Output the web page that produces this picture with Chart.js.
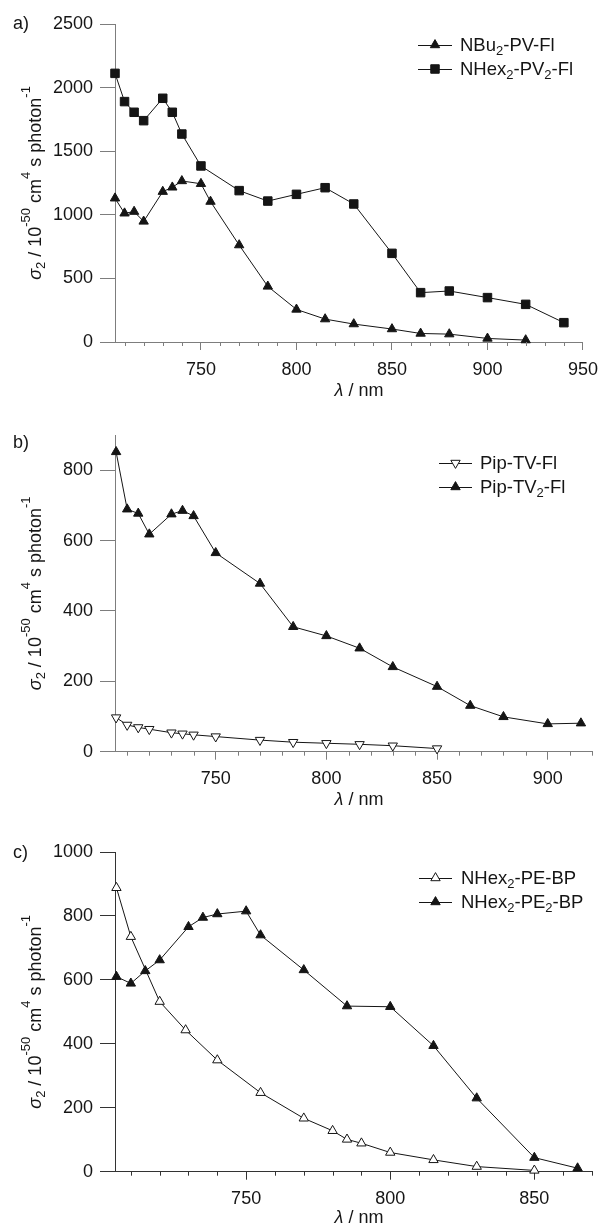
<!DOCTYPE html>
<html>
<head>
<meta charset="utf-8">
<script src="https://cdn.jsdelivr.net/npm/chart.js@4.4.1/dist/chart.umd.min.js"></script>
<style>
  html, body { margin: 0; padding: 0; background: #fff; }
  #wrap { position: relative; width: 607px; height: 1225px; }
  canvas { position: absolute; left: 0; }
</style>
</head>
<body>
<div id="wrap">
  <canvas id="pa" width="607" height="400" style="top:0"></canvas>
  <canvas id="pb" width="607" height="410" style="top:400px"></canvas>
  <canvas id="pc" width="607" height="415" style="top:810px"></canvas>
</div>
<script>
"use strict";

/* ---- data (wavelength in nm, sigma2 in GM) ---- */

// a)
const aWlPV = [705, 710, 715, 720, 730, 735, 740, 750, 755, 770, 785, 800, 815, 830, 850, 865, 880, 900, 920];
const aNBu2PVFl = [1130, 1012, 1025, 948, 1182, 1216, 1266, 1244, 1104, 762, 437, 256, 180, 141, 102, 67, 62, 28, 15];
const aWlPV2 = [705, 710, 715, 720, 730, 735, 740, 750, 770, 785, 800, 815, 830, 850, 865, 880, 900, 920, 940];
const aNHex2PV2Fl = [2112, 1890, 1806, 1740, 1916, 1806, 1635, 1384, 1190, 1108, 1161, 1213, 1085, 697, 388, 401, 349, 296, 152];
const aYTicks = [0, 500, 1000, 1500, 2000, 2500];

// b)
const bWlTV = [705, 710, 715, 720, 730, 735, 740, 750, 770, 785, 800, 815, 830, 850];
const bPipTVFl = [97, 76, 69, 64, 54, 51, 48, 43, 33, 27, 24, 21, 17, 9];
const bWlTV2 = [705, 710, 715, 720, 730, 735, 740, 750, 770, 785, 800, 815, 830, 850, 865, 880, 900, 915];
const bPipTV2Fl = [852, 689, 677, 618, 675, 685, 670, 565, 478, 355, 329, 294, 241, 185, 131, 99, 79, 81];
const bYTicks = [0, 200, 400, 600, 800];

// c)
const cWlPE = [705, 710, 720, 729, 740, 755, 770, 780, 785, 790, 800, 815, 830, 850];
const cNHex2PEBP = [888, 735, 532, 443, 349, 247, 167, 128, 101, 89, 60, 37, 16, 4];
const cWlPE2 = [705, 710, 715, 720, 730, 735, 740, 750, 755, 770, 785, 800, 815, 830, 850, 865];
const cNHex2PE2BP = [610, 589, 628, 662, 766, 795, 806, 815, 740, 631, 518, 516, 394, 230, 44, 11];
const cYTicks = [0, 200, 400, 600, 800, 1000];

/* ---- styling ---- */

const FONT = '"Liberation Sans", Arial, Helvetica, sans-serif';
const BASE = 18, SMALL = 13;
const INK = "#151515";

const fontFor = (kind, size = BASE) =>
  `${kind === "i" ? "italic " : ""}${kind === "sub" || kind === "sup" ? SMALL : size}px ${FONT}`;

function richWidth(ctx, parts, size) {
  let w = 0;
  for (const [t, k] of parts) { ctx.font = fontFor(k, size); w += ctx.measureText(t).width; }
  return w;
}

// parts: [text, kind]; kind "" | "i" | "sub" | "sup"; (x, y) = left end of the baseline
function drawRich(ctx, parts, x, y, size) {
  ctx.textAlign = "left";
  ctx.textBaseline = "alphabetic";
  for (const [t, k] of parts) {
    ctx.font = fontFor(k, size);
    ctx.fillText(t, x, y + (k === "sub" ? 4 : k === "sup" ? -11 : 0));
    x += ctx.measureText(t).width;
  }
}

const Y_TITLE = [["σ", "i"], ["2", "sub"], [" / 10", ""], ["-50", "sup"], [" cm", ""], ["4", "sup"], [" s photon", ""], ["-1", "sup"]];
const X_TITLE = [["λ", "i"], [" / nm", ""]];

const MARK = {
  tri: { pointStyle: "triangle", rotation: 0, radius: 5.4, fill: INK },
  triOpen: { pointStyle: "triangle", rotation: 0, radius: 5.4, fill: "#fff" },
  triDownOpen: { pointStyle: "triangle", rotation: 180, radius: 5.4, fill: "#fff" },
  square: { pointStyle: "rect", rotation: 0, radius: 6, fill: INK },
};

function series(parts, xs, ys, mark) {
  return {
    label: parts.map((p) => p[0]).join(""),
    legendParts: parts,
    mark,
    data: xs.map((x, i) => ({ x, y: ys[i] })),
    showLine: true,
    tension: 0,
    borderColor: INK,
    borderWidth: 1,
    pointStyle: mark.pointStyle,
    rotation: mark.rotation,
    pointRadius: mark.radius,
    pointHoverRadius: mark.radius,
    pointBackgroundColor: mark.fill,
    pointBorderColor: INK,
    pointBorderWidth: 1,
    clip: false,
  };
}

/* ---- decorations: minor ticks, rich-text titles, legend, panel letter ---- */

const decor = {
  id: "decor",
  afterDraw(chart, args, p) {
    const { ctx, chartArea, scales } = chart;
    const bottom = chartArea.bottom;
    ctx.save();

    ctx.strokeStyle = p.axisColor;
    ctx.lineWidth = 1;
    for (const t of scales.x.ticks) {
      if (t.value % 50 === 0) continue;
      const px = Math.round(scales.x.getPixelForValue(t.value)) + 0.5;
      ctx.beginPath();
      ctx.moveTo(px, bottom);
      ctx.lineTo(px, bottom + 4);
      ctx.stroke();
    }

    ctx.fillStyle = INK;
    ctx.font = fontFor("");
    ctx.textAlign = "left";
    ctx.textBaseline = "middle";
    ctx.fillText(p.letter, 13, p.letterY);

    const xw = richWidth(ctx, X_TITLE);
    drawRich(ctx, X_TITLE, 359 - xw / 2, bottom + p.xTitleDy + 6);

    const yw = richWidth(ctx, Y_TITLE);
    ctx.save();
    ctx.translate(41, (chartArea.top + bottom) / 2);
    ctx.rotate(-Math.PI / 2);
    drawRich(ctx, Y_TITLE, -yw / 2, 0);
    ctx.restore();

    chart.data.datasets.forEach((ds, i) => {
      const y = p.legend.rows[i];
      ctx.strokeStyle = INK;
      ctx.lineWidth = 1;
      ctx.beginPath();
      ctx.moveTo(p.legend.x1, y + 0.5);
      ctx.lineTo(p.legend.x2, y + 0.5);
      ctx.stroke();
      ctx.fillStyle = ds.mark.fill;
      Chart.helpers.drawPoint(ctx, {
        pointStyle: ds.mark.pointStyle, rotation: ds.mark.rotation,
        radius: ds.mark.radius, borderWidth: 1,
      }, (p.legend.x1 + p.legend.x2) / 2, y);
      ctx.fillStyle = INK;
      drawRich(ctx, ds.legendParts, p.legend.text, y + 6, 18.5);
    });

    ctx.restore();
  },
};

function makePanel(id, cfg) {
  const canvas = document.getElementById(id);
  const xTicks = [];
  for (let v = 710; v <= cfg.xMax; v += 10) xTicks.push(v);

  return new Chart(canvas, {
    type: "scatter",
    data: { datasets: cfg.datasets },
    options: {
      responsive: false,
      animation: false,
      devicePixelRatio: 1,
      events: [],
      layout: { padding: { top: cfg.top, right: 15, bottom: 0, left: 0 } },
      plugins: { legend: { display: false }, tooltip: { enabled: false }, decor: cfg.decor },
      scales: {
        x: {
          type: "linear",
          min: cfg.xMin,
          max: cfg.xMax,
          afterBuildTicks: (s) => { s.ticks = xTicks.map((value) => ({ value })); },
          afterFit: (s) => { s.height = canvas.height - cfg.axisY; },
          ticks: {
            autoSkip: false,
            maxRotation: 0,
            padding: 9,
            color: INK,
            font: { family: FONT, size: BASE },
            callback: (v) => (v % 50 === 0 ? String(v) : ""),
          },
          grid: {
            drawOnChartArea: false,
            tickLength: 8,
            tickColor: (c) => (c.tick && c.tick.value % 50 === 0 ? cfg.decor.axisColor : "rgba(0,0,0,0)"),
          },
          border: { color: cfg.decor.axisColor, width: 1 },
        },
        y: {
          type: "linear",
          min: 0,
          max: cfg.yMax,
          afterBuildTicks: (s) => { s.ticks = cfg.yTicks.map((value) => ({ value })); },
          afterFit: (s) => { s.width = 115; },
          ticks: { padding: 7, color: INK, font: { family: FONT, size: BASE }, callback: (v) => String(v) },
          grid: { drawOnChartArea: false, tickLength: 15, tickColor: cfg.decor.axisColor },
          border: { color: cfg.decor.axisColor, width: 1 },
        },
      },
    },
    plugins: [decor],
  });
}

makePanel("pa", {
  top: 24, axisY: 342, xMin: 705, xMax: 950, yMax: 2500, yTicks: aYTicks,
  datasets: [
    series([["NBu", ""], ["2", "sub"], ["-PV-Fl", ""]], aWlPV, aNBu2PVFl, MARK.tri),
    series([["NHex", ""], ["2", "sub"], ["-PV", ""], ["2", "sub"], ["-Fl", ""]], aWlPV2, aNHex2PV2Fl, MARK.square),
  ],
  decor: {
    axisColor: "#7d7d7d", letter: "a)", letterY: 24, xTitleDy: 48,
    legend: { x1: 418, x2: 452, text: 460, rows: [45, 69] },
  },
});

makePanel("pb", {
  top: 35, axisY: 351.7, xMin: 704.5, xMax: 920, yMax: 900, yTicks: bYTicks,
  datasets: [
    series([["Pip-TV-Fl", ""]], bWlTV, bPipTVFl, MARK.triDownOpen),
    series([["Pip-TV", ""], ["2", "sub"], ["-Fl", ""]], bWlTV2, bPipTV2Fl, MARK.tri),
  ],
  decor: {
    axisColor: "#7d7d7d", letter: "b)", letterY: 43, xTitleDy: 47,
    legend: { x1: 439, x2: 472, text: 480, rows: [63, 87] },
  },
});

makePanel("pc", {
  top: 42, axisY: 361.7, xMin: 704.5, xMax: 870, yMax: 1000, yTicks: cYTicks,
  datasets: [
    series([["NHex", ""], ["2", "sub"], ["-PE-BP", ""]], cWlPE, cNHex2PEBP, MARK.triOpen),
    series([["NHex", ""], ["2", "sub"], ["-PE", ""], ["2", "sub"], ["-BP", ""]], cWlPE2, cNHex2PE2BP, MARK.tri),
  ],
  decor: {
    axisColor: "#333", letter: "c)", letterY: 43, xTitleDy: 45,
    legend: { x1: 419, x2: 452, text: 461, rows: [68, 92] },
  },
});
</script>
</body>
</html>
